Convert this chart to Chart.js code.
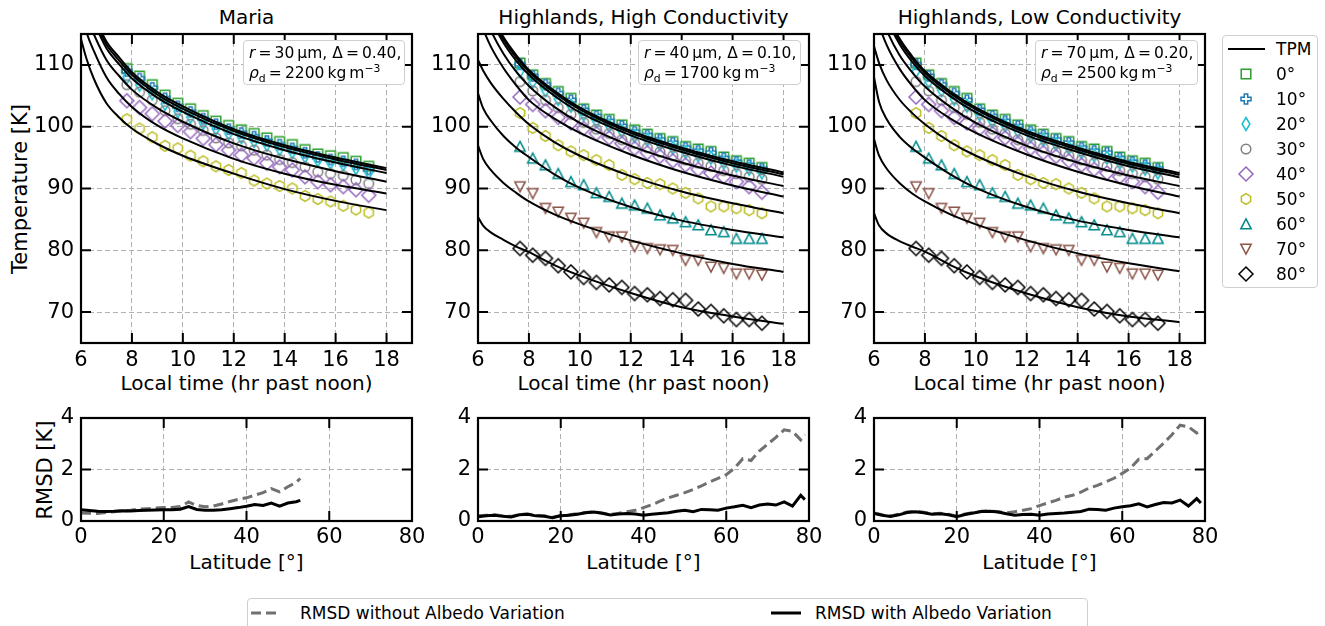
<!DOCTYPE html>
<html>
<head>
<meta charset="utf-8">
<script src="https://cdn.jsdelivr.net/npm/chart.js@4.4.1/dist/chart.umd.min.js"></script>
<style>
  body { margin: 0; background: #fff; font-family: 'DejaVu Sans', sans-serif; }
  #page { position: relative; width: 1325px; height: 626px; overflow: hidden; background: #fff; }
  canvas.panel { position: absolute; }
  .txt { position: absolute; white-space: nowrap; color: #000; }
  .title { font-size: 20px; line-height: 24px; top: 5px; transform: translateX(-50%); }
  .xlab { font-size: 20px; line-height: 24px; transform: translateX(-50%); }
  .ylab { font-size: 21px; line-height: 24px; transform: translate(-50%, -50%) rotate(-90deg); }
  .note { position: absolute; background: #fff; border: 1px solid #cfcfcf; border-radius: 4px;
          font-size: 15.5px; line-height: 19.5px; padding: 3px 0 0 5px; box-sizing: border-box; white-space: nowrap; z-index: 5; }
  .note sub, .note sup { font-size: 70%; line-height: 0; }
  .legend { position: absolute; background: #fff; border: 1px solid #cfcfcf; border-radius: 4px; box-sizing: border-box; z-index: 5; }
  .legend .lt { position: absolute; font-size: 17px; line-height: 20px; white-space: nowrap; }
</style>
</head>
<body>
<div id="page">
  <div class="txt title" style="left:246.5px">Maria</div>
  <div class="txt title" style="left:643.5px">Highlands, High Conductivity</div>
  <div class="txt title" style="left:1039.5px">Highlands, Low Conductivity</div>

  <div class="txt xlab" style="left:246.5px; top:371px">Local time (hr past noon)</div>
  <div class="txt xlab" style="left:643.5px; top:371px">Local time (hr past noon)</div>
  <div class="txt xlab" style="left:1039.5px; top:371px">Local time (hr past noon)</div>
  <div class="txt xlab" style="left:246.5px; top:550px">Latitude [°]</div>
  <div class="txt xlab" style="left:643.5px; top:550px">Latitude [°]</div>
  <div class="txt xlab" style="left:1039.5px; top:550px">Latitude [°]</div>
  <div class="txt ylab" style="left:20px; top:189px">Temperature [K]</div>
  <div class="txt ylab" style="left:45px; top:470px">RMSD [K]</div>

  <div class="note" style="left:243px; top:40px; width:162px; height:45px">
    <i>r</i>&#8201;=&#8201;30&#8201;μm, Δ&#8201;=&#8201;0.40,<br><i>ρ</i><sub>d</sub>&#8201;=&#8201;2200&#8201;kg&#8201;m<sup>−3</sup>
  </div>
  <div class="note" style="left:638px; top:40px; width:163px; height:45px">
    <i>r</i>&#8201;=&#8201;40&#8201;μm, Δ&#8201;=&#8201;0.10,<br><i>ρ</i><sub>d</sub>&#8201;=&#8201;1700&#8201;kg&#8201;m<sup>−3</sup>
  </div>
  <div class="note" style="left:1035px; top:40px; width:163px; height:45px">
    <i>r</i>&#8201;=&#8201;70&#8201;μm, Δ&#8201;=&#8201;0.20,<br><i>ρ</i><sub>d</sub>&#8201;=&#8201;2500&#8201;kg&#8201;m<sup>−3</sup>
  </div>

  <div class="legend" id="latLegend" style="left:1222px; top:35px; width:96px; height:253px"></div>
  <div class="legend" id="rmsdLegend" style="left:247px; top:598px; width:841px; height:40px">
    <svg width="841" height="40" style="position:absolute; left:0; top:0">
      <line x1="3" y1="14" x2="30" y2="14" stroke="#707070" stroke-width="3" stroke-dasharray="10,5"/>
      <line x1="523" y1="14" x2="553" y2="14" stroke="#000" stroke-width="3"/>
    </svg>
    <div class="lt" style="left:52px; top:4px">RMSD without Albedo Variation</div>
    <div class="lt" style="left:567px; top:4px">RMSD with Albedo Variation</div>
  </div>
</div>

<script>
// ── data ────────────────────────────────────────────────────
const latLabels = ['0°', '10°', '20°', '30°', '40°', '50°', '60°', '70°', '80°'];
const timeTicks = [6, 8, 10, 12, 14, 16, 18];
const tempTicks = [70, 80, 90, 100, 110];
const latTicks  = [0, 20, 40, 60, 80];
const rmsdTicks = [0, 2, 4];

// model curves (TPM), sampled at these local times
const tpmTime = [6, 6.2, 6.5, 7, 7.5, 8, 9, 10, 12, 14, 16, 18];

const mariaTpm = [
  [124, 121, 118, 113.8, 111.2, 108.8, 105.6, 103.3, 99.6, 97.0, 95.0, 93.3],
  [123.5, 120.5, 117.5, 113.3, 110.7, 108.4, 105.2, 102.9, 99.3, 96.7, 94.7, 93.0],
  [123, 120, 117, 112.7, 110.1, 107.8, 104.7, 102.4, 98.8, 96.2, 94.2, 92.5],
  [121, 118, 115, 110.8, 108.2, 106.0, 103.0, 100.8, 97.3, 94.8, 92.8, 91.1],
  [119, 115.5, 112.3, 108.0, 105.3, 103.2, 100.2, 98.1, 94.8, 92.4, 90.6, 89.2],
  [114.2, 111.2, 107.8, 103.8, 101.5, 99.7, 97.2, 95.3, 92.4, 89.9, 88.0, 86.5],
];

const hiCondTpm = [
  [124, 121.5, 118.5, 114.5, 111.6, 109.2, 105.8, 103.1, 99.3, 96.6, 94.4, 92.6],
  [123.5, 121, 118, 114.1, 111.2, 108.9, 105.5, 102.8, 99.0, 96.3, 94.1, 92.3],
  [123, 120.5, 117.5, 113.6, 110.7, 108.4, 105.0, 102.3, 98.6, 95.9, 93.7, 91.9],
  [121, 118.5, 115.6, 111.8, 108.9, 106.6, 103.2, 100.6, 96.9, 94.2, 92.1, 90.4],
  [118, 115.8, 113, 109.5, 106.7, 104.3, 101.3, 99.0, 95.5, 92.7, 90.5, 88.7],
  [110.8, 109.1, 107.1, 104.5, 102.3, 100.4, 97.5, 95.3, 92.0, 89.5, 87.6, 86.0],
  [105.4, 103.0, 101.0, 98.5, 96.6, 95.1, 92.3, 90.1, 87.0, 84.8, 83.3, 82.1],
  [97.0, 94.8, 93.0, 90.9, 89.3, 87.9, 85.8, 84.2, 81.6, 79.5, 77.8, 76.5],
  [85.4, 84.0, 82.9, 81.7, 80.6, 79.7, 77.6, 75.9, 73.1, 70.8, 69.3, 68.1],
];

const loCondTpm = [
  [126, 122, 118.5, 114.3, 111.4, 109.0, 105.7, 103.1, 99.3, 96.6, 94.3, 92.5],
  [125.5, 121.5, 118, 113.9, 111.0, 108.7, 105.4, 102.8, 99.0, 96.3, 94.0, 92.2],
  [125, 121, 117.5, 113.4, 110.5, 108.2, 104.9, 102.3, 98.6, 95.9, 93.6, 91.8],
  [123, 119, 115.6, 111.6, 108.8, 106.5, 103.2, 100.6, 96.9, 94.2, 92.1, 90.4],
  [120, 116.5, 113.2, 109.4, 106.6, 104.3, 101.3, 99.0, 95.5, 92.7, 90.5, 88.7],
  [113, 110.3, 107.5, 104.4, 102.2, 100.4, 97.5, 95.3, 92.0, 89.5, 87.6, 86.0],
  [108.0, 104.0, 101.2, 98.4, 96.5, 95.0, 92.3, 90.1, 87.0, 84.8, 83.3, 82.1],
  [98, 95.3, 93.2, 90.9, 89.2, 87.9, 85.8, 84.2, 81.6, 79.5, 77.9, 76.6],
  [86.0, 84.0, 82.7, 81.5, 80.6, 79.8, 77.6, 75.8, 73.0, 70.8, 69.3, 68.4],
];

// observed temperatures
const mariaTime = [7.8, 8.3, 8.8, 9.3, 9.8, 10.3, 10.8, 11.3, 11.8, 12.3, 12.8, 13.3, 13.8, 14.3, 14.8, 15.3, 15.8, 16.3, 16.8, 17.3];
const mariaObs = [
  [109.4, 108.2, 106.8, 105.1, 103.8, 102.9, 101.8, 100.9, 100.2, 99.5, 98.9, 98.2, 97.6, 97.1, 96.3, 95.6, 95.3, 95.0, 94.4, 93.6],
  [109.0, 107.8, 106.3, 104.6, 103.3, 102.4, 101.3, 100.4, 99.6, 99.0, 98.4, 97.7, 97.1, 96.5, 95.8, 95.1, 94.7, 94.4, 93.9, 93.1],
  [108.0, 106.8, 105.4, 103.7, 102.5, 101.6, 100.6, 99.7, 98.9, 98.3, 97.7, 97.1, 96.4, 95.9, 95.2, 94.6, 94.2, 93.9, 93.3, 92.6],
  [106.8, 105.6, 104.3, 102.6, 101.3, 100.4, 99.4, 98.2, 97.4, 96.9, 96.2, 95.4, 94.7, 94.2, 93.5, 92.7, 92.4, 92.1, 91.4, 90.8],
  [104.2, 103.1, 102.1, 100.9, 100.2, 99.2, 98.1, 97.1, 96.2, 95.4, 94.9, 94.1, 93.5, 93.0, 91.9, 91.1, 90.6, 90.3, 89.8, 88.9],
  [101.2, 99.7, 98.3, 96.9, 96.5, 95.3, 94.4, 93.6, 93.0, 92.5, 91.3, 90.8, 90.4, 90.0, 88.8, 88.3, 87.9, 87.2, 86.6, 86.1],
];

const hiTime = [7.65, 8.15, 8.65, 9.15, 9.65, 10.15, 10.65, 11.15, 11.65, 12.15, 12.65, 13.15, 13.65, 14.15, 14.65, 15.15, 15.65, 16.15, 16.65, 17.15];
const hiObs = [
  [110.3, 108.4, 107.0, 105.7, 104.6, 102.9, 101.9, 101.2, 100.3, 99.5, 98.8, 98.1, 97.6, 96.8, 96.4, 96.0, 95.1, 94.5, 94.1, 93.4],
  [110.1, 108.2, 106.8, 105.4, 104.3, 102.7, 101.7, 100.9, 100.1, 99.2, 98.6, 97.9, 97.4, 96.6, 96.1, 95.8, 94.9, 94.3, 93.8, 93.2],
  [109.0, 107.3, 105.9, 104.5, 103.4, 102.0, 100.9, 100.2, 99.3, 98.5, 97.9, 97.2, 96.6, 95.9, 95.4, 95.0, 94.2, 93.7, 93.2, 92.6],
  [107.3, 105.8, 104.3, 103.1, 102.0, 100.7, 99.6, 98.9, 97.9, 97.3, 96.6, 95.9, 95.3, 94.6, 94.1, 93.6, 92.9, 92.4, 91.9, 91.5],
  [104.8, 103.6, 102.6, 101.5, 100.6, 99.7, 98.9, 98.2, 97.3, 96.5, 95.8, 95.2, 94.5, 93.8, 93.1, 92.5, 91.9, 91.1, 90.3, 89.4],
  [102.2, 99.8, 98.5, 97.0, 96.0, 95.4, 94.6, 93.8, 92.2, 91.5, 90.9, 90.7, 90.0, 89.3, 88.4, 87.1, 87.1, 86.8, 86.5, 86.0],
  [96.8, 94.9, 93.8, 92.4, 91.1, 90.6, 89.3, 88.7, 87.6, 87.3, 86.8, 85.7, 85.2, 84.6, 84.1, 83.3, 83.0, 81.9, 81.9, 81.9],
  [90.3, 89.2, 86.8, 86.2, 85.2, 84.4, 82.9, 82.2, 82.2, 80.6, 80.3, 80.1, 80.0, 78.4, 78.4, 77.3, 77.1, 76.2, 76.2, 76.0],
  [80.3, 79.2, 78.7, 77.5, 76.5, 75.6, 74.8, 74.4, 74.0, 73.0, 72.8, 72.2, 72.0, 71.9, 70.5, 70.1, 69.4, 68.8, 68.8, 68.2],
];

// RMSD vs latitude
const mariaLat = [0, 2, 4, 6, 8, 10, 12, 14, 16, 18, 20, 22, 24, 26, 28, 30, 32, 34, 36, 38, 40, 42, 44, 46, 48, 50, 52, 53];
const mariaNoAlb = [0.31, 0.30, 0.29, 0.33, 0.36, 0.39, 0.42, 0.46, 0.48, 0.50, 0.52, 0.52, 0.56, 0.74, 0.60, 0.55, 0.58, 0.66, 0.76, 0.84, 0.90, 1.00, 1.10, 1.26, 1.13, 1.33, 1.50, 1.65];
const mariaAlb   = [0.44, 0.41, 0.38, 0.37, 0.38, 0.40, 0.39, 0.41, 0.42, 0.43, 0.44, 0.44, 0.46, 0.56, 0.45, 0.42, 0.42, 0.44, 0.48, 0.52, 0.57, 0.64, 0.60, 0.70, 0.58, 0.70, 0.75, 0.80];

const hiLat = [0, 2, 4, 6, 8, 10, 12, 14, 16, 18, 20, 22, 24, 26, 28, 30, 32, 34, 36, 38, 40, 42, 44, 46, 48, 50, 52, 54, 56, 58, 60, 62, 64, 66, 68, 70, 72, 74, 76, 78, 79];
const hcNoAlb = [0.20, 0.22, 0.24, 0.20, 0.18, 0.25, 0.27, 0.22, 0.20, 0.15, 0.21, 0.24, 0.28, 0.33, 0.36, 0.31, 0.25, 0.30, 0.36, 0.42, 0.52, 0.63, 0.77, 0.90, 1.00, 1.10, 1.22, 1.36, 1.52, 1.66, 1.80, 2.05, 2.42, 2.35, 2.72, 2.98, 3.25, 3.54, 3.48, 3.15, 3.35];
const hcAlb   = [0.16, 0.20, 0.22, 0.18, 0.16, 0.24, 0.26, 0.20, 0.18, 0.13, 0.20, 0.22, 0.26, 0.32, 0.35, 0.30, 0.23, 0.27, 0.29, 0.27, 0.22, 0.26, 0.29, 0.32, 0.38, 0.42, 0.36, 0.45, 0.44, 0.42, 0.50, 0.55, 0.61, 0.52, 0.62, 0.66, 0.62, 0.74, 0.58, 1.00, 0.83];
const lcNoAlb = [0.31, 0.24, 0.20, 0.26, 0.35, 0.38, 0.34, 0.28, 0.30, 0.26, 0.19, 0.27, 0.33, 0.38, 0.39, 0.36, 0.32, 0.36, 0.42, 0.48, 0.60, 0.70, 0.80, 0.93, 1.00, 1.12, 1.28, 1.38, 1.52, 1.66, 1.85, 2.05, 2.40, 2.42, 2.72, 3.02, 3.35, 3.72, 3.66, 3.42, 3.50];
const lcAlb   = [0.29, 0.22, 0.18, 0.24, 0.33, 0.36, 0.32, 0.26, 0.28, 0.24, 0.17, 0.25, 0.31, 0.37, 0.38, 0.35, 0.28, 0.22, 0.25, 0.26, 0.22, 0.27, 0.29, 0.31, 0.34, 0.37, 0.46, 0.45, 0.42, 0.50, 0.55, 0.59, 0.67, 0.55, 0.64, 0.72, 0.70, 0.81, 0.58, 0.87, 0.70];

// ── styles ──────────────────────────────────────────────────
const latShapes = ['square', 'plus', 'thinDiamond', 'circle', 'diamond', 'hexagon', 'triUp', 'triDown', 'diamond'];
const latColors = ['#2ca02c', '#1f77b4', '#17becf', '#7f7f7f', '#9467bd', '#bcbd22', '#008b8b', '#8c564b', '#000000'];
const GRID = '#b0b0b0';

Chart.defaults.font.family = "'DejaVu Sans', sans-serif";
Chart.defaults.color = '#000';

function makeMarker(shape, color) {
  const c = document.createElement('canvas');
  c.width = 18; c.height = 18;
  const g = c.getContext('2d');
  g.translate(9, 9);
  g.strokeStyle = color;
  g.lineWidth = 1.5;
  g.beginPath();
  const poly = function(pts) {
    g.moveTo(pts[0][0], pts[0][1]);
    for (let i = 1; i < pts.length; i++) g.lineTo(pts[i][0], pts[i][1]);
    g.closePath();
  };
  if (shape === 'square') g.rect(-4.8, -4.8, 9.6, 9.6);
  else if (shape === 'plus') {
    const a = 1.7, e = 5;
    poly([[-a,-e],[a,-e],[a,-a],[e,-a],[e,a],[a,a],[a,e],[-a,e],[-a,a],[-e,a],[-e,-a],[-a,-a]]);
  }
  else if (shape === 'thinDiamond') poly([[0,-6.5],[3.9,0],[0,6.5],[-3.9,0]]);
  else if (shape === 'circle') g.arc(0, 0, 4.8, 0, Math.PI * 2);
  else if (shape === 'diamond') poly([[0,-7],[7,0],[0,7],[-7,0]]);
  else if (shape === 'hexagon') {
    const p = [];
    for (let i = 0; i < 6; i++) {
      const a = (-90 + 60 * i) * Math.PI / 180;
      p.push([5.3 * Math.cos(a), 5.3 * Math.sin(a)]);
    }
    poly(p);
  }
  else if (shape === 'triUp') poly([[0,-5.2],[5.2,4.8],[-5.2,4.8]]);
  else if (shape === 'triDown') poly([[0,5.2],[5.2,-4.8],[-5.2,-4.8]]);
  g.stroke();
  return c;
}

const markers = latShapes.map(function(s, i) { return makeMarker(s, latColors[i]); });

// frame + inward ticks on all four sides
const framePlugin = {
  id: 'frame',
  afterDatasetsDraw(chart) {
    const ctx = chart.ctx, a = chart.chartArea;
    const x = chart.scales.x, y = chart.scales.y;
    ctx.save();
    ctx.strokeStyle = '#000';
    ctx.lineWidth = 2;
    ctx.beginPath();
    x.ticks.forEach(function(t) {
      const px = x.getPixelForValue(t.value);
      ctx.moveTo(px, a.bottom); ctx.lineTo(px, a.bottom - 10);
      ctx.moveTo(px, a.top);    ctx.lineTo(px, a.top + 10);
    });
    y.ticks.forEach(function(t) {
      const py = y.getPixelForValue(t.value);
      ctx.moveTo(a.left, py);  ctx.lineTo(a.left + 10, py);
      ctx.moveTo(a.right, py); ctx.lineTo(a.right - 10, py);
    });
    ctx.stroke();
    ctx.lineWidth = 2.2;
    ctx.strokeRect(a.left, a.top, a.right - a.left, a.bottom - a.top);
    ctx.restore();
  }
};

function axis(min, max, tickVals, isX, pad) {
  return {
    type: 'linear', min: min, max: max,
    afterBuildTicks: function(s) { s.ticks = tickVals.map(function(v) { return { value: v }; }); },
    afterFit: function(s) {
      if (isX) s.height = 40; else s.width = 60;
      s.paddingLeft = 0; s.paddingRight = 0; s.paddingTop = 0; s.paddingBottom = 0;
    },
    grid: { color: GRID, lineWidth: 1, drawTicks: false },
    border: { display: false, dash: [5, 3] },
    ticks: { font: { size: 21 }, color: '#000', padding: pad, maxRotation: 0, autoSkip: false },
  };
}

function addCanvas(left, top, w, h) {
  const c = document.createElement('canvas');
  c.className = 'panel';
  c.width = w; c.height = h;
  c.style.left = left + 'px'; c.style.top = top + 'px';
  c.style.width = w + 'px'; c.style.height = h + 'px';
  document.getElementById('page').appendChild(c);
  return c;
}

function tempPanel(left, tpm, times, obs) {
  const datasets = [];
  tpm.forEach(function(row) {
    datasets.push({
      data: tpmTime.map(function(t, i) { return { x: t, y: row[i] }; }),
      showLine: true, borderColor: '#000', borderWidth: 2, pointRadius: 0,
      cubicInterpolationMode: 'monotone', order: 0,
    });
  });
  obs.forEach(function(row, k) {
    datasets.push({
      data: times.map(function(t, i) { return { x: t, y: row[i] }; }),
      showLine: false, pointStyle: markers[k], pointRadius: 6, order: 20 - k,
    });
  });
  new Chart(addCanvas(left - 60, 0, 407, 383), {
    type: 'scatter',
    data: { datasets: datasets },
    options: {
      responsive: false, animation: false, events: [],
      layout: { padding: { left: 0, top: 34, right: 16, bottom: 0 } },
      plugins: { legend: { display: false }, tooltip: { enabled: false } },
      scales: { x: axis(6, 19, timeTicks, true, 5), y: axis(65, 115, tempTicks, false, 7) },
    },
    plugins: [framePlugin],
  });
}

function rmsdPanel(left, lats, noAlb, alb) {
  new Chart(addCanvas(left - 60, 400, 407, 161), {
    type: 'scatter',
    data: {
      datasets: [
        { data: lats.map(function(l, i) { return { x: l, y: alb[i] }; }),
          showLine: true, borderColor: '#000', borderWidth: 3, pointRadius: 0, order: 0 },
        { data: lats.map(function(l, i) { return { x: l, y: noAlb[i] }; }),
          showLine: true, borderColor: '#707070', borderWidth: 3, borderDash: [10, 5], pointRadius: 0, order: 1 },
      ]
    },
    options: {
      responsive: false, animation: false, events: [],
      layout: { padding: { left: 0, top: 18, right: 16, bottom: 0 } },
      plugins: { legend: { display: false }, tooltip: { enabled: false } },
      scales: { x: axis(0, 80, latTicks, true, 4), y: axis(0, 4, rmsdTicks, false, 7) },
    },
    plugins: [framePlugin],
  });
}

tempPanel(81, mariaTpm, mariaTime, mariaObs);
tempPanel(478, hiCondTpm, hiTime, hiObs);
tempPanel(874, loCondTpm, hiTime, hiObs);

rmsdPanel(81, mariaLat, mariaNoAlb, mariaAlb);
rmsdPanel(478, hiLat, hcNoAlb, hcAlb);
rmsdPanel(874, hiLat, lcNoAlb, lcAlb);

// ── latitude legend ─────────────────────────────────────────
(function buildLegend() {
  const box = document.getElementById('latLegend');
  const line = document.createElement('div');
  line.style.cssText = 'position:absolute; left:5px; top:11.5px; width:37px; height:2.6px; background:#000';
  box.appendChild(line);
  const tpm = document.createElement('div');
  tpm.className = 'lt'; tpm.textContent = 'TPM';
  tpm.style.left = '53px'; tpm.style.top = '3px';
  box.appendChild(tpm);
  latLabels.forEach(function(lab, k) {
    const cy = 38 + 25 * k;
    const m = makeMarker(latShapes[k], latColors[k]);
    m.style.cssText = 'position:absolute; left:' + (23 - 9) + 'px; top:' + (cy - 9) + 'px';
    box.appendChild(m);
    const t = document.createElement('div');
    t.className = 'lt'; t.textContent = lab;
    t.style.left = '53px'; t.style.top = (cy - 10) + 'px';
    box.appendChild(t);
  });
})();
</script>
</body>
</html>
